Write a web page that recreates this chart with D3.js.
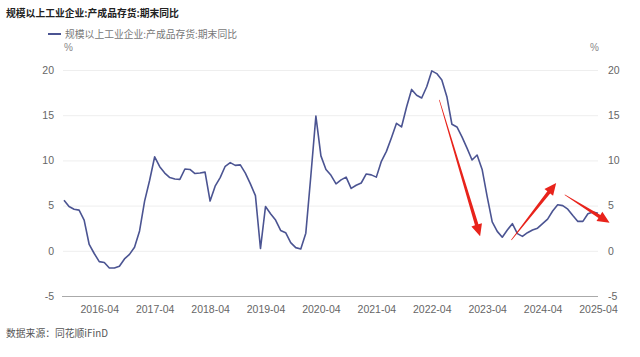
<!DOCTYPE html>
<html><head><meta charset="utf-8">
<script src="https://cdn.jsdelivr.net/npm/d3@7/dist/d3.min.js"></script>
<style>
html,body{margin:0;padding:0;background:#fff;}
svg{display:block;}
text{font-family:"Liberation Sans","Noto Sans CJK SC",sans-serif;}
.cjk{font-family:"Noto Sans CJK SC","Noto Sans",sans-serif;}
</style></head>
<body>
<svg id="c" width="640" height="357"></svg>
<script>
// ---- data (monthly; January not published) ----
const categories = [
  "2015-08","2015-09","2015-10","2015-11","2015-12",
  "2016-02","2016-03","2016-04","2016-05","2016-06","2016-07","2016-08","2016-09","2016-10","2016-11","2016-12",
  "2017-02","2017-03","2017-04","2017-05","2017-06","2017-07","2017-08","2017-09","2017-10","2017-11","2017-12",
  "2018-02","2018-03","2018-04","2018-05","2018-06","2018-07","2018-08","2018-09","2018-10","2018-11","2018-12",
  "2019-02","2019-03","2019-04","2019-05","2019-06","2019-07","2019-08","2019-09","2019-10","2019-11","2019-12",
  "2020-02","2020-03","2020-04","2020-05","2020-06","2020-07","2020-08","2020-09","2020-10","2020-11","2020-12",
  "2021-02","2021-03","2021-04","2021-05","2021-06","2021-07","2021-08","2021-09","2021-10","2021-11","2021-12",
  "2022-02","2022-03","2022-04","2022-05","2022-06","2022-07","2022-08","2022-09","2022-10","2022-11","2022-12",
  "2023-02","2023-03","2023-04","2023-05","2023-06","2023-07","2023-08","2023-09","2023-10","2023-11","2023-12",
  "2024-02","2024-03","2024-04","2024-05","2024-06","2024-07","2024-08","2024-09","2024-10","2024-11","2024-12",
  "2025-02","2025-03","2025-04"
];
const values = [
  5.6, 4.9, 4.6, 4.5, 3.4,
  0.7, -0.3, -1.2, -1.3, -1.9, -1.9, -1.7, -0.9, -0.4, 0.4, 2.2,
  5.5, 7.8, 10.4, 9.3, 8.6, 8.1, 7.95, 7.9, 9.05, 9.0, 8.55,
  8.6, 8.7, 5.5, 7.15, 8.1, 9.35, 9.75, 9.45, 9.5, 8.6, 7.4,
  6.1, 0.25, 4.9, 4.1, 3.4, 2.25, 2.0, 0.9, 0.35, 0.2, 1.95,
  8.3, 14.9, 10.5, 9.0, 8.35, 7.4, 7.85, 8.15, 6.9, 7.25, 7.5,
  8.5, 8.4, 8.15, 9.9, 11.0, 12.5, 14.1, 13.7, 15.9, 17.85, 17.2,
  16.9, 18.15, 19.9, 19.6, 18.9, 17.05, 14.0, 13.7, 12.6, 11.35, 10.05,
  10.6, 9.0, 6.0, 3.2, 2.15, 1.5, 2.3, 3.0, 1.9, 1.6, 2.0,
  2.3, 2.5, 3.0, 3.5, 4.4, 5.1, 5.0, 4.6, 3.9, 3.25, 3.25,
  4.1, 4.3, 4.15
];
const yTicks = [-5, 0, 5, 10, 15, 20];
const seriesName = "规模以上工业企业:产成品存货:期末同比";
const titleText = "规模以上工业企业:产成品存货:期末同比";
const sourceText = "数据来源：同花顺iFinD";
// trend arrows in data space: [categoryIndex, value]
const arrows = [
  {from:[74.5, 16.7], to:[82.6, 1.6]},
  {from:[88.8, 1.2],  to:[97.7, 7.5]},
  {from:[99.4, 6.2],  to:[108.3, 3.1]}
];

(function(){
const svg = d3.select("#c");
const pl = 64, pr = 598, pt = 70, pb = 296;
const x = d3.scaleLinear().domain([0, categories.length - 1]).range([pl, pr]);
const y = d3.scaleLinear().domain([-5, 20]).range([pb, pt]);
const lineColor = "#4b5492";
const textGray = "#666";

// title
svg.append("text").attr("class","cjk").attr("x",6).attr("y",17)
  .attr("font-size",9.8).attr("font-weight","bold").attr("fill","#222").text(titleText);

// legend
svg.append("line").attr("x1",48).attr("x2",61).attr("y1",34).attr("y2",34)
  .attr("stroke",lineColor).attr("stroke-width",2);
svg.append("text").attr("class","cjk").attr("x",65).attr("y",37.5)
  .attr("font-size",9.8).attr("fill","#777").text(seriesName);

// unit labels
svg.append("text").attr("x",pl).attr("y",51).attr("font-size",10).attr("fill","#888").text("%");
svg.append("text").attr("x",pr-8).attr("y",51).attr("font-size",10).attr("fill","#888").text("%");

// gridlines
svg.append("g").selectAll("line").data(yTicks.filter(d => d !== -5)).join("line")
  .attr("x1",pl-1).attr("x2",pr).attr("y1",d=>y(d)+0.5).attr("y2",d=>y(d)+0.5)
  .attr("stroke","#eeeeee").attr("stroke-width",1);

// x axis line
svg.append("line").attr("x1",pl-2).attr("x2",pr).attr("y1",y(-5)+0.5).attr("y2",y(-5)+0.5)
  .attr("stroke","#aaaaaa").attr("stroke-width",1);

// y axes (left & right)
const fmt = d => String(d);
const yl = svg.append("g").attr("transform",`translate(${pl-10},0)`)
  .call(d3.axisLeft(y).tickValues(yTicks).tickSize(0).tickFormat(fmt));
const yr = svg.append("g").attr("transform",`translate(${pr+10},0)`)
  .call(d3.axisRight(y).tickValues(yTicks).tickSize(0).tickFormat(fmt));
[yl, yr].forEach(g => {
  g.select(".domain").remove();
  g.selectAll("text").attr("font-size",10.5).attr("fill",textGray)
    .attr("font-family","Liberation Sans, sans-serif").attr("x",0);
});

// x axis tick labels
const xTickIdx = categories.map((c,i)=>c.endsWith("-04") ? i : -1).filter(i => i >= 0);
const xa = svg.append("g").attr("transform",`translate(0,${pb+5})`)
  .call(d3.axisBottom(x).tickValues(xTickIdx).tickSize(0).tickFormat(i => categories[i]));
xa.select(".domain").remove();
xa.selectAll("text").attr("font-size",10.5).attr("fill",textGray)
  .attr("font-family","Liberation Sans, sans-serif").attr("dy","0.9em");

// series line
const line = d3.line().x((d,i)=>x(i)).y(d=>y(d));
svg.append("path").datum(values).attr("d",line)
  .attr("fill","none").attr("stroke",lineColor).attr("stroke-width",1.6)
  .attr("stroke-linejoin","round");

// tapered red arrows
function arrowPoly(p0, p1){
  const dx = p1[0]-p0[0], dy = p1[1]-p0[1];
  const L = Math.hypot(dx,dy), ux = dx/L, uy = dy/L, nx = -uy, ny = ux;
  const hl = 12, hw = 5.5, w0 = 0.3, w1 = 1.8;
  const bx = p1[0]-ux*hl, by = p1[1]-uy*hl;
  return [
    [p0[0]+nx*w0, p0[1]+ny*w0],
    [bx+nx*w1, by+ny*w1],
    [bx+nx*hw, by+ny*hw],
    [p1[0], p1[1]],
    [bx-nx*hw, by-ny*hw],
    [bx-nx*w1, by-ny*w1],
    [p0[0]-nx*w0, p0[1]-ny*w0]
  ];
}
svg.append("g").selectAll("polygon").data(arrows).join("polygon")
  .attr("points", a => arrowPoly([x(a.from[0]), y(a.from[1])],[x(a.to[0]), y(a.to[1])]).map(p=>p.join(",")).join(" "))
  .attr("fill","#e8231b");

// source
svg.append("text").attr("class","cjk").attr("x",6).attr("y",337)
  .attr("font-size",9.8).attr("fill","#555").text(sourceText);
})();
</script>
</body></html>
